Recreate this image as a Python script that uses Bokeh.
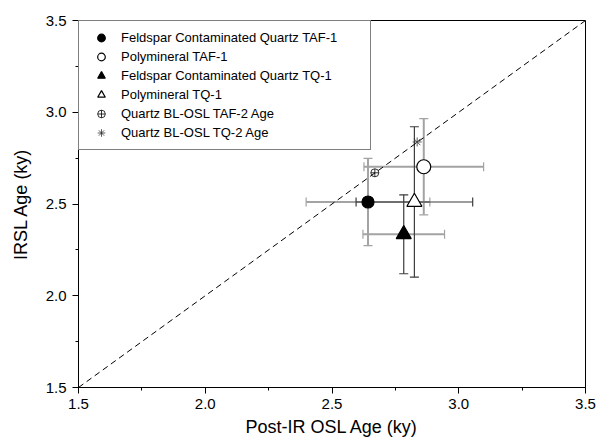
from bokeh.plotting import figure
from bokeh.models import (ColumnDataSource, Whisker, TeeHead, Legend, LegendItem,
                          Slope, SingleIntervalTicker, PrintfTickFormatter, Range1d)
from bokeh.embed import file_html
from bokeh.resources import INLINE

# ---- data ----
series_names = [
    "Feldspar Contaminated Quartz TAF-1",
    "Polymineral TAF-1",
    "Feldspar Contaminated Quartz TQ-1",
    "Polymineral TQ-1",
    "Quartz BL-OSL TAF-2 Age",
    "Quartz BL-OSL TQ-2 Age",
]
post_ir_osl = [2.642, 2.862, 2.783, 2.825, 2.669, 2.836]   # x (ky)
irsl_age    = [2.511, 2.703, 2.335, 2.511, 2.670, 2.838]   # y (ky)
x_err       = [0.244, 0.236, 0.161, 0.230, 0.0, 0.0]
y_err       = [0.238, 0.262, 0.215, 0.410, 0.0, 0.0]
x_ticks_range = [1.5, 3.5]
y_ticks_range = [1.5, 3.5]

markers      = ["circle", "circle", "triangle", "triangle", "circle_cross", "asterisk"]
fills        = ["black", "white", "black", "white", "white", None]
sizes        = [12, 14, 15, 15, 8, 9]
x_bar_colors = ["#a3a3a3", "#a3a3a3", "#a3a3a3", "#3c3c3c", None, None]
y_bar_colors = ["#a3a3a3", "#a3a3a3", "#3c3c3c", "#3c3c3c", None, None]

FONT = "Liberation Sans"

p = figure(width=601, height=439, output_backend="svg", toolbar_location=None,
           x_range=Range1d(*x_ticks_range), y_range=Range1d(*y_ticks_range),
           min_border_left=78, min_border_right=16, min_border_top=20, min_border_bottom=51)
p.background_fill_color = "white"
p.border_fill_color = "white"
p.outline_line_color = "black"
p.outline_line_width = 1
p.xgrid.visible = False
p.ygrid.visible = False

for ax, title in ((p.xaxis[0], "Post-IR OSL Age (ky)"), (p.yaxis[0], "IRSL Age (ky)")):
    ax.ticker = SingleIntervalTicker(interval=0.5, num_minor_ticks=2)
    ax.formatter = PrintfTickFormatter(format="%.1f")
    ax.axis_label = title
    ax.axis_label_text_font = FONT
    ax.axis_label_text_font_size = "18px"
    ax.axis_label_text_font_style = "normal"
    ax.axis_label_text_color = "black"
    ax.major_label_text_font = FONT
    ax.major_label_text_font_size = "15px"
    ax.major_label_text_color = "black"
    ax.major_tick_in = 0
    ax.major_tick_out = 6
    ax.minor_tick_in = 0
    ax.minor_tick_out = 3
    ax.axis_line_color = "black"
    ax.major_tick_line_color = "black"
    ax.minor_tick_line_color = "black"

p.xaxis.major_label_standoff = 5
p.xaxis.axis_label_standoff = 5
p.yaxis.major_label_standoff = 6
p.yaxis.axis_label_standoff = 12

# 1:1 line
p.add_layout(Slope(gradient=1, y_intercept=0, line_color="black", line_width=1, line_dash="6 4"))

# error bars
for i in range(len(series_names)):
    x, y = post_ir_osl[i], irsl_age[i]
    if x_bar_colors[i] and x_err[i] > 0:
        c = x_bar_colors[i]
        src = ColumnDataSource(dict(base=[y], lower=[x - x_err[i]], upper=[x + x_err[i]]))
        w = Whisker(source=src, base="base", lower="lower", upper="upper", dimension="width",
                    line_color=c, line_width=2 if c == "#a3a3a3" else 1.2,
                    upper_head=TeeHead(size=9, line_color=c, line_width=1.2),
                    lower_head=TeeHead(size=9, line_color=c, line_width=1.2))
        p.add_layout(w)
    if y_bar_colors[i] and y_err[i] > 0:
        c = y_bar_colors[i]
        src = ColumnDataSource(dict(base=[x], lower=[y - y_err[i]], upper=[y + y_err[i]]))
        w = Whisker(source=src, base="base", lower="lower", upper="upper", dimension="height",
                    line_color=c, line_width=2 if c == "#a3a3a3" else 1.2,
                    upper_head=TeeHead(size=9, line_color=c, line_width=1.2),
                    lower_head=TeeHead(size=9, line_color=c, line_width=1.2))
        p.add_layout(w)

items = []
for i, name in enumerate(series_names):
    src = ColumnDataSource(dict(x=[post_ir_osl[i]], y=[irsl_age[i]]))
    line_col = "#333333" if markers[i] == "asterisk" else "black"
    r = p.scatter("x", "y", source=src, marker=markers[i], size=sizes[i],
                  fill_color=fills[i], line_color=line_col,
                  line_width=1.2 if markers[i] not in ("circle_cross", "asterisk") else 0.8)
    items.append(LegendItem(label=name, renderers=[r]))

legend = Legend(items=items, location="top_left", margin=0, padding=7,
                glyph_width=30, glyph_height=19, label_height=19, spacing=0,
                label_standoff=5, label_width=242,
                label_text_font=FONT, label_text_font_size="13px", label_text_color="black",
                border_line_color="black", border_line_width=1,
                background_fill_color="white", background_fill_alpha=1)
p.add_layout(legend)

open("out.html", "w").write(file_html(p, INLINE))
